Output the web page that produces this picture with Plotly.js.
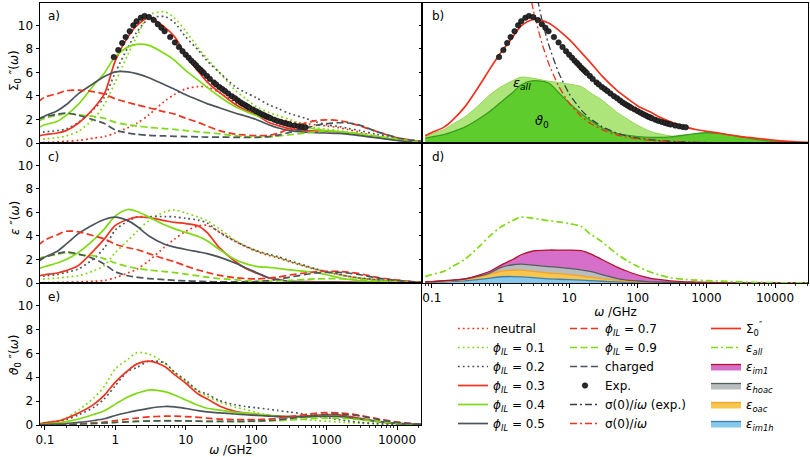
<!DOCTYPE html>
<html><head><meta charset="utf-8">
<script src="https://cdn.plot.ly/plotly-3.0.1.min.js"></script>
<style>html,body{margin:0;padding:0;background:#fff}#chart{width:810px;height:457px}</style>
</head><body><div id="chart"></div>
<script>
// ---------- DATA ----------
const FREQ = [0.08, 0.1, 0.15, 0.2, 0.3, 0.5, 0.7, 1, 1.5, 2, 3, 5, 7, 10, 15, 20, 30, 50, 70, 100, 150, 200, 300, 500, 700, 1000, 1500, 2000, 3000, 5000, 10000, 20000, 35000];

// panel a: Sigma_0''
const A_NEUTRAL = [0.03,0.05,0.1,0.15,0.22, 0.42,0.55,0.85,1.3,1.65, 2.4,3.55,4.15,4.6,4.8, 4.75,4.3,3.45,3.0,2.6, 2.25,2.05,1.85,1.65,1.55, 1.45,1.3,1.15,0.9,0.55, 0.25,0.1,0.04];
const A_PHI01 = [0.3,0.35,0.45,0.6,1.0, 2.1,3.3,5.2,7.5,9.0, 10.85,11.15,10.6,9.5,8.1, 7.2,6.0,4.5,3.8,3.1, 2.6,2.35,2.0,1.5,1.3, 1.17,1.05,0.92,0.78,0.52, 0.25,0.1,0.04];
const A_PHI02 = [0.85,0.95,1.05,1.2,1.75, 2.9,3.9,6.0,8.1,9.4, 10.55,10.75,10.2,9.0,7.9, 7.0,6.0,4.8,4.3,3.85, 3.25,2.95,2.5,2.1,1.8, 1.55,1.4,1.25,1.05,0.75, 0.4,0.15,0.05];
const A_PHI03 = [0.6,0.7,0.85,1.05,1.7, 3.0,4.2,7.0,9.0,9.95, 10.65,9.85,9.0,7.45,6.1, 5.2,4.3,3.3,2.8,2.4, 1.75,1.5,1.2,1.08,1.02, 1.0,0.95,0.85,0.7,0.5, 0.25,0.1,0.05];
const A_PHI04 = [1.3,1.55,1.85,2.35,3.3, 4.95,5.95,7.35,8.15,8.38, 8.3,7.6,7.0,6.15,5.35, 4.75,3.95,3.1,2.7,2.35, 2.05,1.9,1.65,1.35,1.17, 1.05,0.95,0.88,0.75,0.55, 0.3,0.12,0.05];
const A_PHI05 = [1.95,2.3,2.75,3.25,4.2, 5.1,5.65,6.05,6.05,5.9, 5.55,4.95,4.55,4.1,3.65, 3.35,3.0,2.55,2.3,2.0, 1.55,1.3,1.05,0.92,0.87, 0.85,0.82,0.75,0.62,0.45, 0.22,0.08,0.03];
const A_PHI07 = [3.5,3.9,4.2,4.45,4.5, 4.35,4.15,3.75,3.45,3.25, 3.0,2.65,2.45,2.1,1.75, 1.45,1.05,0.75,0.68,0.62, 0.65,0.8,1.25,1.7,1.9, 1.97,1.9,1.75,1.45,1.0, 0.45,0.15,0.05];
const A_PHI09 = [1.85,2.1,2.35,2.5,2.4, 2.25,2.1,1.75,1.55,1.45, 1.33,1.22,1.15,1.06,0.95, 0.88,0.78,0.6,0.55,0.5, 0.52,0.58,0.7,0.85,0.95, 1.0,0.98,0.9,0.78,0.6, 0.35,0.12,0.04];
const A_CHARGED = [2.05,2.25,2.45,2.55,2.35, 1.95,1.65,1.1,0.85,0.75, 0.65,0.6,0.57,0.55,0.52, 0.5,0.5,0.48,0.47,0.47, 0.55,0.65,0.9,1.25,1.5, 1.65,1.72,1.7,1.5,1.0, 0.45,0.18,0.06];

// panel c: epsilon''
const C_NEUTRAL = [0.02,0.03,0.05,0.07,0.1, 0.15,0.22,0.45,0.85,1.15, 1.9,3.05,3.75,4.4,4.85, 4.9,4.35,3.55,3.1,2.7, 2.35,2.15,1.8,1.4,1.15, 0.93,0.7,0.56,0.4,0.27, 0.13,0.05,0.02];
const C_PHI01 = [0.3,0.35,0.42,0.5,0.62, 1.05,1.5,2.6,3.6,4.35, 5.3,6.05,6.2,5.95,5.6, 5.3,4.6,3.65,3.15,2.75, 2.4,2.2,1.82,1.42,1.17, 0.95,0.72,0.57,0.41,0.28, 0.13,0.05,0.02];
const C_PHI02 = [0.52,0.6,0.72,0.9,1.2, 2.1,3.0,4.5,5.25,5.6, 5.65,5.65,5.62,5.5,5.35, 5.1,4.3,3.55,3.15,2.75, 2.45,2.25,1.9,1.48,1.2, 0.97,0.74,0.58,0.42,0.29, 0.14,0.05,0.02];
const C_PHI03 = [0.6,0.7,0.85,1.05,1.5, 2.8,3.75,4.9,5.4,5.6, 5.55,5.3,5.15,5.05,4.85, 4.3,3.0,1.85,1.25,0.85, 0.45,0.3,0.17,0.12,0.1, 0.1,0.08,0.07,0.05,0.03, 0.02,0.01,0];
const C_PHI04 = [1.2,1.4,1.7,2.0,2.6, 3.7,4.6,5.7,6.25,6.1, 5.6,4.95,4.6,4.3,3.95, 3.6,2.85,2.0,1.65,1.42, 1.32,1.25,1.12,0.98,0.88, 0.7,0.45,0.32,0.2,0.1, 0.05,0.02,0.01];
const C_PHI05 = [1.8,2.2,2.7,3.3,4.2, 5.0,5.4,5.6,5.3,4.85, 4.0,3.3,3.05,2.85,2.65, 2.5,2.2,1.7,1.3,0.9, 0.45,0.3,0.15,0.1,0.08, 0.08,0.07,0.06,0.04,0.03, 0.02,0.01,0];
const C_PHI07 = [3.2,3.65,4.1,4.4,4.35, 4.0,3.75,3.3,3.0,2.85, 2.5,2.05,1.8,1.45,1.1, 0.9,0.65,0.45,0.38,0.35, 0.42,0.5,0.68,0.85,0.95, 1.0,0.98,0.92,0.78,0.5, 0.25,0.08,0.03];
const C_PHI09 = [2.05,2.25,2.45,2.55,2.4, 2.3,2.05,1.7,1.4,1.25, 1.1,0.97,0.88,0.75,0.6, 0.5,0.38,0.28,0.2,0.15, 0.15,0.17,0.22,0.3,0.35, 0.38,0.36,0.33,0.28,0.18, 0.1,0.04,0.02];
const C_CHARGED = [1.95,2.2,2.5,2.65,2.45, 2.05,1.6,0.95,0.62,0.5, 0.38,0.28,0.22,0.18,0.15, 0.12,0.1,0.1,0.1,0.12, 0.2,0.3,0.5,0.72,0.85, 0.9,0.9,0.85,0.7,0.45, 0.22,0.07,0.02];

// panel e: theta_0''
const E_PHI01 = [0.12,0.2,0.35,0.6,1.25, 2.3,3.25,4.7,5.5,6.05, 5.95,5.2,4.4,3.65,2.85, 2.4,1.95,1.5,1.3,1.05, 0.8,0.68,0.55,0.45,0.38, 0.32,0.25,0.2,0.15,0.1, 0.05,0.02,0.01];
const E_PHI02 = [0.1,0.15,0.28,0.45,0.85, 1.5,2.2,3.3,4.5,4.8, 5.35,5.2,4.4,3.75,2.85, 2.6,2.05,1.7,1.55,1.45, 1.32,1.22,1.08,0.9,0.75, 0.62,0.45,0.35,0.22,0.12, 0.06,0.02,0.01];
const E_PHI03 = [0.1,0.18,0.32,0.55,1.0, 1.75,2.5,3.6,4.55,5.1, 5.35,4.9,4.2,3.5,2.6, 2.2,1.6,1.15,1.0,0.9, 0.78,0.72,0.7,0.75,0.82, 0.88,0.85,0.75,0.55,0.33, 0.13,0.05,0.02];
const E_PHI04 = [0.05,0.1,0.18,0.28,0.5, 0.9,1.2,1.75,2.35,2.65, 2.93,2.8,2.5,2.1,1.65, 1.4,1.25,1.05,1.0,0.92, 0.82,0.75,0.68,0.65,0.7, 0.74,0.7,0.62,0.47,0.3, 0.12,0.04,0.02];
const E_PHI05 = [0.02,0.04,0.08,0.12,0.22, 0.38,0.52,0.8,1.05,1.2, 1.4,1.55,1.52,1.38,1.2, 1.1,1.02,0.92,0.86,0.8, 0.75,0.72,0.7,0.7,0.73, 0.75,0.72,0.65,0.5,0.32, 0.13,0.04,0.02];
const E_PHI07 = [0.02,0.03,0.05,0.07,0.1, 0.18,0.25,0.36,0.5,0.58, 0.68,0.74,0.75,0.7,0.64, 0.58,0.5,0.46,0.45,0.45, 0.5,0.56,0.7,0.88,0.98, 1.04,1.02,0.95,0.8,0.55, 0.25,0.08,0.03];
const E_PHI09 = [0.01,0.02,0.03,0.05,0.08, 0.13,0.17,0.22,0.28,0.31, 0.34,0.36,0.36,0.35,0.33, 0.31,0.3,0.29,0.29,0.3, 0.33,0.36,0.42,0.5,0.55, 0.58,0.57,0.53,0.45,0.32, 0.15,0.05,0.02];
const E_CHARGED = [0.01,0.02,0.03,0.05,0.08, 0.13,0.17,0.22,0.27,0.3, 0.33,0.35,0.35,0.34,0.32, 0.3,0.3,0.3,0.31,0.33, 0.38,0.43,0.55,0.72,0.82, 0.9,0.92,0.88,0.75,0.5, 0.22,0.07,0.02];

// experimental points
const EXP_FREQ = [0.95,1.1,1.25,1.4,1.6,1.8,2.0,2.3,2.6,3.0,3.5,4,4.5,5,6,7,8,9,10,11,12,13,14,15,16,17,18,20,22,25,27,30,33,36,40,45,50,55,60,65,70,75,80,90,100,110,120,130,140,150,160,180,200,225,250,275,300,350,400,450,500];
const EXP_VAL = [7.3,7.9,8.5,9.0,9.5,10.0,10.35,10.65,10.8,10.7,10.45,10.1,9.8,9.5,9.0,8.55,8.15,7.8,7.5,7.25,7.0,6.8,6.6,6.4,6.25,6.1,5.95,5.7,5.45,5.15,4.98,4.75,4.58,4.42,4.2,3.98,3.8,3.62,3.45,3.32,3.2,3.1,3.0,2.85,2.7,2.57,2.45,2.35,2.25,2.18,2.1,1.98,1.88,1.78,1.7,1.63,1.57,1.48,1.42,1.37,1.33];

// panel b
const B_SIGMA0 = [0.62,0.9,1.35,1.95,3.05, 4.95,6.3,7.65,9.0,9.95, 10.5,10.2,9.6,8.8,7.7, 6.9,5.7,4.45,3.8,3.15, 2.65,2.25,1.8,1.35,1.15, 1.0,0.85,0.72,0.57,0.42, 0.22,0.1,0.05];
const B_EPS_ALL = [0.56,0.8,1.15,1.6,2.2, 3.3,4.1,4.75,5.3,5.6, 5.5,5.25,5.15,5.0,4.8, 4.3,3.65,2.6,2.05,1.5, 1.0,0.8,0.6,0.5,0.55, 0.62,0.6,0.52,0.4,0.27, 0.12,0.05,0.02];
const B_THETA0 = [0.42,0.52,0.72,0.95,1.35, 2.1,2.7,3.45,4.3,4.95, 5.3,5.1,4.3,3.4,2.5, 1.95,1.3,0.8,0.65,0.55, 0.48,0.47,0.52,0.68,0.8, 0.87,0.82,0.72,0.55,0.33, 0.13,0.05,0.02];
const SIG_FREQ = [2, 2.5, 3, 4, 5, 7, 10, 15, 20, 30, 50, 70, 100, 200, 500, 1000, 5000, 35000];
const SIG_EXP = [21, 16.8, 14, 10.5, 8.4, 6.0, 4.2, 2.8, 2.1, 1.4, 0.84, 0.6, 0.42, 0.21, 0.084, 0.042, 0.008, 0.001];
const SIG_CALC = [17, 13.6, 11.3, 8.5, 6.8, 4.85, 3.4, 2.27, 1.7, 1.13, 0.68, 0.49, 0.34, 0.17, 0.068, 0.034, 0.007, 0.001];

// panel d
const D_EPS_ALL = [0.54,0.72,1.0,1.4,2.0, 3.15,4.0,4.75,5.3,5.6, 5.5,5.3,5.2,5.05,4.8, 4.2,3.5,2.45,1.9,1.4, 0.95,0.7,0.45,0.3,0.25, 0.2,0.17,0.14,0.1,0.06, 0.03,0.01,0.01];
const D_IM1H = [0.05,0.06,0.1,0.13,0.18, 0.3,0.42,0.53,0.55,0.52, 0.45,0.35,0.32,0.28,0.24, 0.2,0.15,0.1,0.07,0.05, 0.03,0.02,0.01,0.01,0.01, 0.01,0,0,0,0, 0,0,0];
const D_OAC = [0.03,0.04,0.05,0.07,0.1, 0.22,0.33,0.47,0.53,0.58, 0.53,0.5,0.48,0.44,0.36, 0.3,0.23,0.12,0.08,0.05, 0.04,0.03,0.02,0.01,0.01, 0.01,0,0,0,0, 0,0,0];
const D_HOAC = [0.02,0.02,0.03,0.04,0.06, 0.08,0.1,0.3,0.47,0.5, 0.54,0.55,0.53,0.53,0.52, 0.48,0.34,0.16,0.1,0.07, 0.03,0.03,0.02,0.01,0.01, 0.01,0,0,0,0, 0,0,0];
const D_IM1 = [0,0,0.02,0.01,0.01, 0.1,0.15,0.2,0.45,0.8, 1.2,1.4,1.47,1.55,1.63, 1.52,1.28,0.97,0.75,0.51, 0.32,0.22,0.13,0.07,0.05, 0.03,0.02,0.01,0.01,0, 0,0,0];

const TICK_VALS = [0.1, 1, 10, 100, 1000, 10000];
const TICK_TEXT = ['0.1', '1', '10', '100', '1000', '10000'];

// ---------- STYLE ----------
const RED = '#f0321e', LIME = '#7fda14', GRAY = '#4c545c';
const DOT = '1.8px,3px', DASH = '7px,3.5px', DASHDOT = '7px,3px,2px,3px';
const FONT = 'DejaVu Sans, sans-serif';
const LW = 1.7;

const phi = v => '<i>ϕ<sub>IL</sub></i> = ' + v;
const SERIES = [
  {name:'neutral', color:RED, dash:DOT, a:A_NEUTRAL, c:C_NEUTRAL, e:null, leg:'legend', rank:1},
  {name:phi('0.1'), color:LIME, dash:DOT, a:A_PHI01, c:C_PHI01, e:E_PHI01, leg:'legend', rank:2},
  {name:phi('0.2'), color:GRAY, dash:DOT, a:A_PHI02, c:C_PHI02, e:E_PHI02, leg:'legend', rank:3},
  {name:phi('0.3'), color:RED, dash:'solid', a:A_PHI03, c:C_PHI03, e:E_PHI03, leg:'legend', rank:4},
  {name:phi('0.4'), color:LIME, dash:'solid', a:A_PHI04, c:C_PHI04, e:E_PHI04, leg:'legend', rank:5},
  {name:phi('0.5'), color:GRAY, dash:'solid', a:A_PHI05, c:C_PHI05, e:E_PHI05, leg:'legend', rank:6},
  {name:phi('0.7'), color:RED, dash:DASH, a:A_PHI07, c:C_PHI07, e:E_PHI07, leg:'legend2', rank:1},
  {name:phi('0.9'), color:LIME, dash:DASH, a:A_PHI09, c:C_PHI09, e:E_PHI09, leg:'legend2', rank:2},
  {name:'charged', color:GRAY, dash:DASH, a:A_CHARGED, c:C_CHARGED, e:E_CHARGED, leg:'legend2', rank:3}
];

const traces = [];
let gid = 0;
function ln(x, y, xa, ya, color, dash, name, legend, rank, extra) {
  const t = {type:'scatter', mode:'lines', x:x, y:y, xaxis:xa, yaxis:ya,
    line:{color:color, width:LW, dash:dash, shape:'spline', smoothing:0.8},
    name:name || '', showlegend:!!legend, hoverinfo:'skip'};
  if (legend) { t.legend = legend; t.legendrank = rank; t.legendgroup = 'g' + (gid++); }
  return Object.assign(t, extra || {});
}

// panels a, c, e
SERIES.forEach(s => {
  traces.push(ln(FREQ, s.a, 'x', 'y', s.color, s.dash, s.name, s.leg, s.rank));
  traces.push(ln(FREQ, s.c, 'x3', 'y3', s.color, s.dash, s.name, null));
  if (s.e) traces.push(ln(FREQ, s.e, 'x5', 'y5', s.color, s.dash, s.name, null));
});
const expMarker = {size:5.5, color:'#2a2a2a', line:{color:'#000', width:0.5}};
traces.push({type:'scatter', mode:'markers', x:EXP_FREQ, y:EXP_VAL, xaxis:'x', yaxis:'y',
  marker:expMarker, name:'Exp.', legend:'legend2', legendrank:4, legendgroup:'gexp', hoverinfo:'skip'});

// panel b
traces.push(ln(FREQ, B_EPS_ALL, 'x2', 'y2', '#9ad85a', 'solid', '', null, 0, {fill:'tozeroy', fillcolor:'#ade57a', line:{color:'#96d65a', width:1, shape:'spline', smoothing:0.8}}));
traces.push(ln(FREQ, B_THETA0, 'x2', 'y2', '#3a9c1c', 'solid', '', null, 0, {fill:'tozeroy', fillcolor:'#5fcc2e', line:{color:'#3a9c1c', width:1.3, shape:'spline', smoothing:0.8}}));
traces.push(ln(SIG_FREQ, SIG_EXP, 'x2', 'y2', '#3a3f45', DASHDOT, 'σ(0)/<i>iω</i> (exp.)', 'legend2', 5, {line:{color:'#3a3f45', width:1.3, dash:DASHDOT, shape:'spline', smoothing:0.6}}));
traces.push(ln(SIG_FREQ, SIG_CALC, 'x2', 'y2', RED, DASHDOT, 'σ(0)/<i>iω</i>', 'legend2', 6, {line:{color:RED, width:1.3, dash:DASHDOT, shape:'spline', smoothing:0.6}}));
traces.push(ln(FREQ, B_SIGMA0, 'x2', 'y2', RED, 'solid', 'Σ<sub>0</sub><sup>″</sup>', 'legend3', 1));
traces.push({type:'scatter', mode:'markers', x:EXP_FREQ, y:EXP_VAL, xaxis:'x2', yaxis:'y2',
  marker:expMarker, showlegend:false, hoverinfo:'skip'});

// panel d stacked areas
const STACK = [
  {y:D_IM1H, name:'<i>ε<sub>im1h</sub></i>', fill:'#86c9ea', line:'#3d7fae', rank:6},
  {y:D_OAC, name:'<i>ε<sub>oac</sub></i>', fill:'#f7c64e', line:'#f2a42a', rank:5},
  {y:D_HOAC, name:'<i>ε<sub>hoac</sub></i>', fill:'#b9bdbd', line:'#555d60', rank:4},
  {y:D_IM1, name:'<i>ε<sub>im1</sub></i>', fill:'#d66fc9', line:'#b3122e', rank:3}
];
STACK.forEach(s => {
  traces.push({type:'scatter', mode:'lines', x:FREQ, y:s.y, xaxis:'x4', yaxis:'y4', stackgroup:'d',
    fillcolor:s.fill, line:{color:s.line, width:1.3, shape:'spline', smoothing:0.8},
    name:s.name, legend:'legend3', legendrank:s.rank, legendgroup:'s' + s.rank, hoverinfo:'skip'});
});
traces.push(ln(FREQ, D_EPS_ALL, 'x4', 'y4', LIME, DASHDOT, '<i>ε<sub>all</sub></i>', 'legend3', 2));

// ---------- LAYOUT ----------
const W = 810, H = 457;
const px = v => v / W, py = v => 1 - v / H;
const LEFT = [px(40), px(421)], RIGHT = [px(423), px(808)];
const DA = [py(143), py(3)], DC = [py(283), py(143)], DE = [py(425), py(283)];

const MINOR = [];
for (let d = -2; d <= 5; d++) for (let k = 2; k <= 9; k++) MINOR.push(k * Math.pow(10, d));

const base = {showline:true, linecolor:'#000', linewidth:1, mirror:true, showgrid:false, zeroline:false,
  tickfont:{family:FONT, size:12, color:'#000'}, fixedrange:true, tickcolor:'#000', tickwidth:1};
function yax(domain, anchor, labels) {
  return Object.assign({}, base, {domain:domain, anchor:anchor, range:[0, 11.9], tickvals:[0,2,4,6,8,10],
    ticktext:['0','2','4','6','8','10'], showticklabels:labels, ticks:'outside', ticklen:3.5});
}
function xax(domain, anchor, range, labels) {
  const o = Object.assign({}, base, {type:'log', domain:domain, anchor:anchor, range:range,
    tickvals:TICK_VALS, ticktext:TICK_TEXT, showticklabels:labels, ticks:labels ? 'outside' : ''});
  if (labels) {
    o.ticklen = 3.5;
    o.minor = {ticks:'outside', ticklen:2, tickcolor:'#000', tickwidth:0.8, tickvals:MINOR, showgrid:false};
    o.title = {text:'<i>ω</i> /GHz', font:{family:FONT, size:12, color:'#000'}, standoff:2};
  }
  return o;
}
const LR = [-1.07, 4.34], RR = [-1.13, 4.48];

function lbl(x, y, text, size) {
  return {xref:'paper', yref:'paper', x:px(x), y:py(y), text:text, showarrow:false,
    xanchor:'left', yanchor:'middle', font:{family:FONT, size:size, color:'#000'}};
}
function ytitle(y, text) {
  return {xref:'paper', yref:'paper', x:px(15), y:py(y), text:text, showarrow:false, textangle:-90,
    xanchor:'center', yanchor:'middle', font:{family:FONT, size:12, color:'#000'}};
}
const legendBase = {orientation:'v', bgcolor:'rgba(0,0,0,0)', borderwidth:0, traceorder:'normal',
  font:{family:FONT, size:12, color:'#000'}, itemwidth:30, tracegroupgap:1, yanchor:'top', xanchor:'left', itemclick:false};

const layout = {
  width:W, height:H, margin:{l:0, r:0, t:0, b:0}, paper_bgcolor:'#fff', plot_bgcolor:'#fff',
  font:{family:FONT, size:12, color:'#000'}, hovermode:false,
  xaxis: xax(LEFT, 'y', LR, false),
  yaxis: yax(DA, 'x', true),
  xaxis2: xax(RIGHT, 'y2', RR, false),
  yaxis2: yax(DA, 'x2', false),
  xaxis3: xax(LEFT, 'y3', LR, false),
  yaxis3: yax(DC, 'x3', true),
  xaxis4: xax(RIGHT, 'y4', RR, true),
  yaxis4: yax(DC, 'x4', false),
  xaxis5: xax(LEFT, 'y5', LR, true),
  yaxis5: yax(DE, 'x5', true),
  legend: Object.assign({}, legendBase, {x:px(453), y:py(314)}),
  legend2: Object.assign({}, legendBase, {x:px(565), y:py(314)}),
  legend3: Object.assign({}, legendBase, {x:px(706), y:py(314)}),
  annotations: [
    ytitle(71, 'Σ<sub>0</sub> ″(<i>ω</i>)'), ytitle(218, '<i>ε</i> ″(<i>ω</i>)'), ytitle(355, '<i>ϑ</i><sub>0</sub> ″(<i>ω</i>)'),
    lbl(46, 16, 'a)', 12), lbl(430, 16, 'b)', 12), lbl(46, 157, 'c)', 12),
    lbl(430, 157, 'd)', 12), lbl(46, 297, 'e)', 12),
    lbl(511, 83, '<i>ε<sub>all</sub></i>', 13), lbl(533, 122, '<i>ϑ</i><sub>0</sub>', 13)
  ]
};

Plotly.newPlot('chart', traces, layout, {staticPlot:true, displayModeBar:false});
</script></body></html>
